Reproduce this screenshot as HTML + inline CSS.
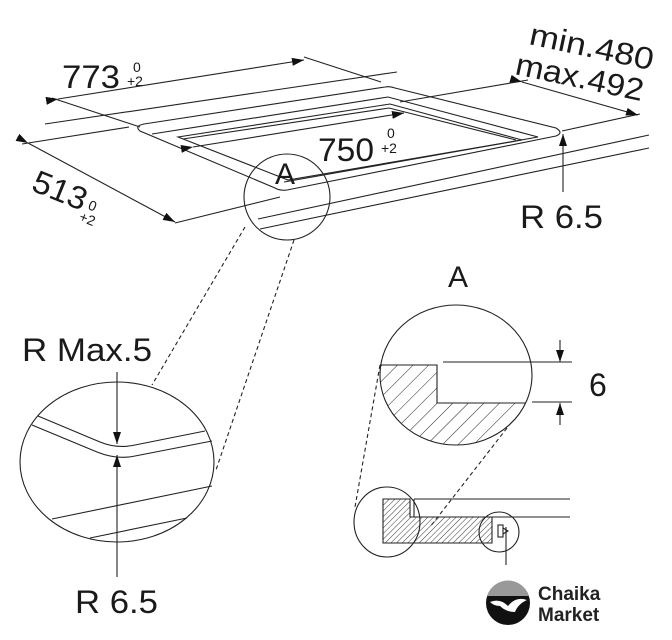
<!DOCTYPE html>
<html><head><meta charset="utf-8"><style>
html,body{margin:0;padding:0;background:#fff;}
svg{display:block;}
text{font-family:"Liberation Sans",sans-serif;fill:#1a1a1a;}
</style></head><body>
<svg width="672" height="640" viewBox="0 0 672 640" xmlns="http://www.w3.org/2000/svg">
<defs>
<pattern id="h1" patternUnits="userSpaceOnUse" width="11" height="11" patternTransform="rotate(45)">
<line x1="0" y1="0" x2="0" y2="11" stroke="#222" stroke-width="1"/></pattern>
<pattern id="h2" patternUnits="userSpaceOnUse" width="4" height="4" patternTransform="rotate(45)">
<line x1="0" y1="0" x2="0" y2="4" stroke="#222" stroke-width="0.9"/></pattern>
<marker id="ar" markerWidth="12" markerHeight="8" refX="12" refY="4" orient="auto" markerUnits="userSpaceOnUse">
<path d="M0,0 L12,4 L0,8 Z" fill="#111"/></marker>
<clipPath id="cb"><ellipse cx="456" cy="375" rx="76" ry="70"/></clipPath>
</defs>
<g stroke="#222" stroke-width="1.1" fill="none">
<line x1="45" y1="124" x2="397" y2="72"/>
<line x1="22" y1="144" x2="129" y2="127"/>
<line x1="52" y1="98" x2="140" y2="127"/>
<line x1="304" y1="57" x2="381" y2="82"/>
<line x1="58" y1="99" x2="304" y2="60" marker-start="url(#ar)" marker-end="url(#ar)"/>
<path d="M144,124 L385,87 Q390,86 395,88 L556,128 Q564,133 556,136 L287,190 Q280,191 275,188 L140,131 Q134,126 144,124 Z"/>
<path d="M152,134 L388,97 L538,137 L284,182"/>
<path d="M178,137 L390,104 L522,140 L288,180 Z"/>
<path d="M183,139 L389,108 L516,140"/>
<line x1="193" y1="147" x2="404" y2="113" marker-start="url(#ar)" marker-end="url(#ar)"/>
<line x1="400" y1="102" x2="528" y2="80"/>
<line x1="562" y1="131" x2="640" y2="114"/>
<line x1="522" y1="82" x2="638" y2="115" marker-start="url(#ar)" marker-end="url(#ar)"/>
<line x1="258" y1="219" x2="649" y2="135"/>
<line x1="260" y1="229" x2="649" y2="148"/>
<line x1="175" y1="223" x2="280" y2="197"/>
<line x1="28" y1="143" x2="175" y2="222" marker-start="url(#ar)" marker-end="url(#ar)"/>
<line x1="563" y1="192" x2="563" y2="134" marker-end="url(#ar)"/>
<ellipse cx="287" cy="197" rx="43" ry="43"/>
<line x1="245" y1="227" x2="152" y2="385" stroke-dasharray="4,3"/>
<line x1="294" y1="240" x2="216" y2="470" stroke-dasharray="4,3"/>
<ellipse cx="117" cy="462" rx="97" ry="80"/>
<path d="M38,416 L100,442 Q117,449 135,445 L205,431"/>
<path d="M32,425 L97,452 Q117,460 135,456 L212,441"/>
<line x1="52" y1="519" x2="212" y2="486"/>
<line x1="90" y1="538" x2="187" y2="518"/>
<line x1="117" y1="372" x2="117" y2="444" marker-end="url(#ar)"/>
<line x1="117" y1="577" x2="117" y2="455" marker-end="url(#ar)"/>
<path d="M380,365 L437,365 L437,403 L545,403 L545,460 L370,460 Z" fill="url(#h1)" stroke="none" clip-path="url(#cb)"/>
<path d="M380,365 L437,365 L437,403 L525,403"/>
<ellipse cx="456" cy="375" rx="76" ry="70"/>
<line x1="443" y1="362" x2="572" y2="362"/>
<line x1="532" y1="402" x2="572" y2="402"/>
<line x1="560" y1="340" x2="560" y2="362" marker-end="url(#ar)"/>
<line x1="560" y1="425" x2="560" y2="403" marker-end="url(#ar)"/>
<line x1="380" y1="365" x2="355" y2="507" stroke-dasharray="4,3"/>
<line x1="507" y1="428" x2="430" y2="527" stroke-dasharray="4,3"/>
<path d="M383,499 L410,499 L410,517 L492,517 L492,543 L383,543 Z" fill="url(#h2)"/>
<line x1="414" y1="499" x2="570" y2="499"/>
<line x1="414" y1="517" x2="570" y2="517"/>
<line x1="414" y1="499" x2="414" y2="517"/>
<ellipse cx="387" cy="522" rx="33" ry="35"/>
<circle cx="499" cy="532" r="20"/>
<rect x="498" y="525" width="5" height="12"/>
<path d="M503,528 L508,531 L503,534"/>
<line x1="506" y1="527" x2="506" y2="565"/>
</g>
<text x="62" y="88" font-size="32" textLength="58" lengthAdjust="spacingAndGlyphs">773</text>
<text x="133" y="72" font-size="14">0</text>
<text x="127" y="86" font-size="14">+2</text>
<text x="318" y="161" font-size="32" textLength="56" lengthAdjust="spacingAndGlyphs">750</text>
<text x="387" y="138" font-size="14">0</text>
<text x="381" y="153" font-size="14">+2</text>
<text x="275" y="184" font-size="30">A</text>
<text x="520" y="228" font-size="32" textLength="83" lengthAdjust="spacingAndGlyphs">R 6.5</text>
<g transform="translate(528,44) rotate(12)"><text x="0" y="0" font-size="31" textLength="126" lengthAdjust="spacingAndGlyphs">min.480</text></g>
<g transform="translate(514,74) rotate(12)"><text x="0" y="0" font-size="31" textLength="130" lengthAdjust="spacingAndGlyphs">max.492</text></g>
<g transform="translate(30,190) rotate(22)"><text x="0" y="0" font-size="32" textLength="56" lengthAdjust="spacingAndGlyphs">513</text>
<text x="60" y="-4" font-size="14">0</text><text x="56" y="10" font-size="14">+2</text></g>
<text x="22" y="361" font-size="32" textLength="130" lengthAdjust="spacingAndGlyphs">R Max.5</text>
<text x="75" y="613" font-size="32" textLength="83" lengthAdjust="spacingAndGlyphs">R 6.5</text>
<text x="448" y="287" font-size="30">A</text>
<text x="589" y="396" font-size="32">6</text>
<circle cx="508" cy="603" r="22" fill="#111"/>
<path d="M487,596 A22,22 0 0 1 529,596 Z" fill="#999"/>
<path d="M490,602 Q500,598 508,606 Q516,596 527,600 Q518,604 515,612 Q506,612 500,606 Q494,606 490,602 Z" fill="#fff"/>
<text x="538" y="600" font-size="19" font-weight="bold" style="fill:#222">Chaika</text>
<text x="538" y="621" font-size="19" font-weight="bold" style="fill:#222">Market</text>
</svg>
</body></html>
